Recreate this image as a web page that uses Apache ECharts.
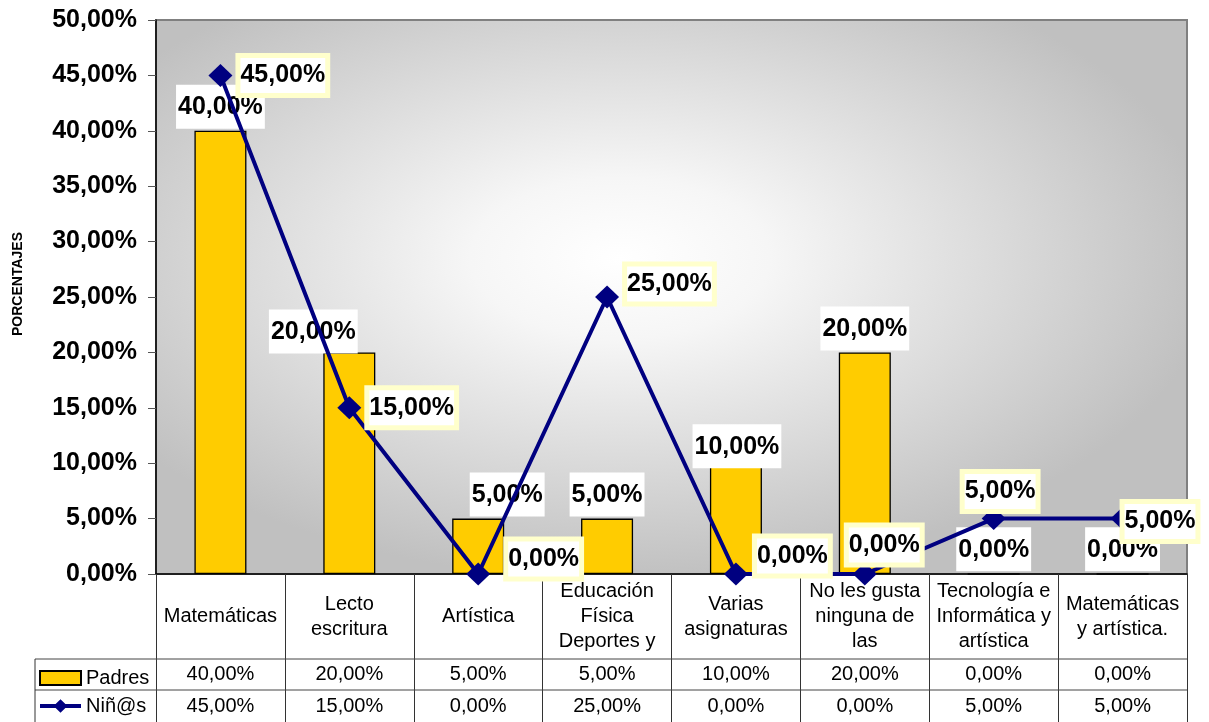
<!DOCTYPE html>
<html>
<head>
<meta charset="utf-8">
<script src="https://cdn.jsdelivr.net/npm/echarts@6/dist/echarts.min.js"></script>
<style>html,body{margin:0;padding:0;background:#fff;}#c{width:1209px;height:722px;}</style>
</head>
<body>
<div id="c"></div>
<script>
// ---- data ----
const categories = ["Matemáticas", "Lecto\nescritura", "Artística", "Educación\nFísica\nDeportes y", "Varias\nasignaturas", "No les gusta\nninguna de\nlas", "Tecnología e\nInformática y\nartística", "Matemáticas\ny artística."];
const padres = [40, 20, 5, 5, 10, 20, 0, 0];
const ninos = [45, 15, 0, 25, 0, 0, 5, 5];
const yTicks = [0, 5, 10, 15, 20, 25, 30, 35, 40, 45, 50];

// ---- label placement styles (manual offsets like the original) ----
const padresLabelOffsets = [[0,0],[-36,3],[29,0],[0,0],[1,7],[0,0],[0,0],[0,0]];
const ninosLabelOffsets = [[3,0],[3,0],[13,-15],[3,-13],[4,-18],[-33,-29],[-46,-27],[-15,3]];

const fmt = v => v.toFixed(2).replace('.', ',') + '%';
const FONT = "'Liberation Sans', Arial, sans-serif";

const G = {left: 156, top: 20, right: 1187, bottom: 574};
const gw = G.right - G.left, gh = G.bottom - G.top;

const chart = echarts.init(document.getElementById('c'));
chart.setOption({
  animation: false,
  textStyle: {fontFamily: FONT},
  grid: {left: G.left, top: G.top, right: 1209 - G.right, bottom: 722 - G.bottom,
         outerBoundsMode: 'none', containLabel: false,
         show: true, borderColor: '#808080', borderWidth: 2, backgroundColor: 'transparent'},
  graphic: [
    {type: 'rect', z: -1, x: G.left, y: G.top, scaleX: gw / gh,
     shape: {x: 0, y: 0, width: gh, height: gh},
     style: {fill: {type: 'radial', x: 0.45, y: 0.43, r: 0.58,
       colorStops: [{offset: 0, color: '#ffffff'}, {offset: 0.25, color: '#f6f6f6'}, {offset: 1, color: '#c0c0c0'}]}}},
    {type: 'line', z: 5, shape: {x1: 35, y1: 659, x2: G.right, y2: 659}, style: {stroke: '#444', lineWidth: 1}},
    {type: 'line', z: 5, shape: {x1: 35, y1: 690, x2: G.right, y2: 690}, style: {stroke: '#444', lineWidth: 1}},
    {type: 'line', z: 5, shape: {x1: 35, y1: 659, x2: 35, y2: 722}, style: {stroke: '#333', lineWidth: 1}}
  ],
  legend: {
    orient: 'vertical', left: 39, top: 668, height: 60, padding: 0,
    itemWidth: 41, itemHeight: 14, itemGap: 8,
    textStyle: {fontSize: 20, color: '#000', fontFamily: FONT},
    data: [{name: 'Padres', icon: 'rect'},
           {name: 'Niñ@s', icon: 'path://M0,5 L16,5 L21,0 L26,5 L42,5 L42,9 L26,9 L21,14 L16,9 L0,9 Z',
            itemStyle: {color: '#000080', borderWidth: 0}}]
  },
  xAxis: [
    {type: 'category', data: categories, gridIndex: 0, position: 'bottom',
     axisLine: {show: true, lineStyle: {color: '#000', width: 1.5}},
     axisTick: {show: true, length: 148, lineStyle: {color: '#333', width: 1}},
     axisLabel: {interval: 0, margin: 42.5, verticalAlign: 'middle', lineHeight: 25, fontSize: 20, color: '#000', fontFamily: FONT}},
    {type: 'category', data: padres.map(fmt), gridIndex: 0, position: 'bottom',
     axisLine: {show: false}, axisTick: {show: false},
     axisLabel: {interval: 0, margin: 100.5, verticalAlign: 'middle', fontSize: 20, color: '#000', fontFamily: FONT}},
    {type: 'category', data: ninos.map(fmt), gridIndex: 0, position: 'bottom',
     axisLine: {show: false}, axisTick: {show: false},
     axisLabel: {interval: 0, margin: 132, verticalAlign: 'middle', fontSize: 20, color: '#000', fontFamily: FONT}}
  ],
  yAxis: {
    type: 'value', min: yTicks[0], max: yTicks[yTicks.length - 1], interval: yTicks[1] - yTicks[0],
    name: 'PORCENTAJES', nameLocation: 'middle', nameGap: 131,
    nameTextStyle: {fontSize: 14, fontWeight: 'bold', color: '#000', fontFamily: FONT, padding: [0, 0, 0, 26]},
    axisLine: {show: true, lineStyle: {color: '#000', width: 1.5}},
    axisTick: {show: true, inside: false, length: 8, lineStyle: {color: '#555'}},
    splitLine: {show: false},
    axisLabel: {margin: 19, fontSize: 25, fontWeight: 'bold', color: '#000', fontFamily: FONT, formatter: v => fmt(v)}
  },
  series: [
    {name: 'Padres', type: 'bar', xAxisIndex: 0, barWidth: 52,
     itemStyle: {color: '#FFCC00', borderColor: '#000', borderWidth: 1.3},
     label: {show: true, position: 'top', distance: 2, fontSize: 25, fontWeight: 'bold', color: '#000',
             fontFamily: FONT, backgroundColor: '#fff', padding: [10, 2, 9, 2], formatter: p => fmt(p.value)},
     data: padres.map((v, i) => ({value: v, label: {offset: padresLabelOffsets[i]}}))},
    {name: 'Niñ@s', type: 'line', xAxisIndex: 0,
     symbol: 'diamond', symbolSize: [24, 23], showAllSymbol: true,
     lineStyle: {color: '#000080', width: 4}, itemStyle: {color: '#000080'},
     label: {show: true, position: 'right', distance: 5, fontSize: 25, fontWeight: 'bold', color: '#000',
             fontFamily: FONT, backgroundColor: '#fff', borderColor: '#FFFFCC', borderWidth: 5,
             padding: [5, 0, 5, 0], formatter: p => fmt(p.value)},
     data: ninos.map((v, i) => ({value: v, label: {offset: ninosLabelOffsets[i]}}))}
  ]
});
</script>
</body>
</html>
